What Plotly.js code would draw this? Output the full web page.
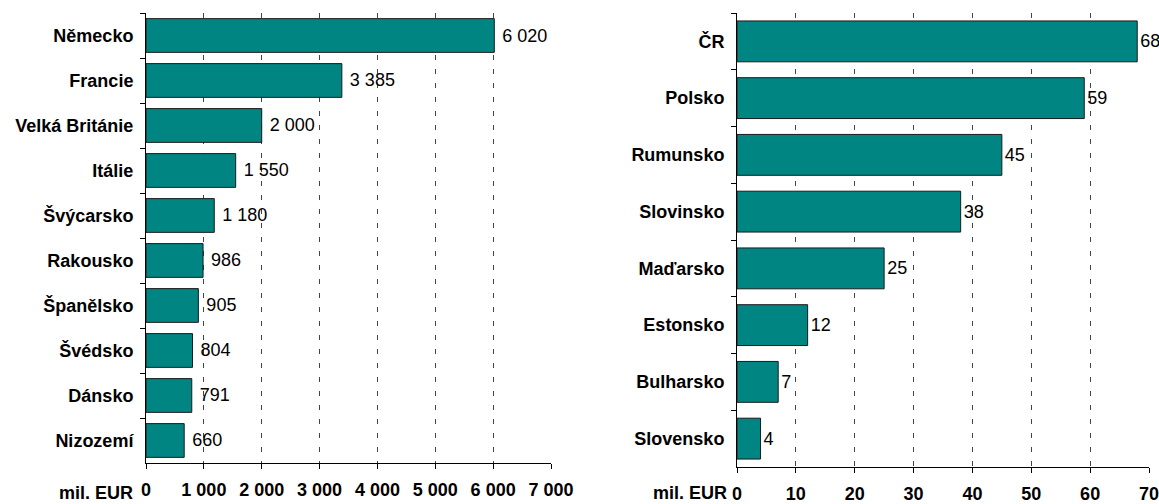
<!DOCTYPE html>
<html>
<head>
<meta charset="utf-8">
<script src="https://cdn.plot.ly/plotly-3.0.1.min.js"></script>
<style>html,body{margin:0;padding:0;background:#fff;}#chart{width:1159px;height:504px;}</style>
</head>
<body>
<div id="chart"></div>
<script>
// Left panel
const leftCountries = ["Německo","Francie","Velká Británie","Itálie","Švýcarsko","Rakousko","Španělsko","Švédsko","Dánsko","Nizozemí"];
const leftValues = [6020, 3385, 2000, 1550, 1180, 986, 905, 804, 791, 660];
const leftTicks = [0, 1000, 2000, 3000, 4000, 5000, 6000, 7000];
// Right panel
const rightCountries = ["ČR","Polsko","Rumunsko","Slovinsko","Maďarsko","Estonsko","Bulharsko","Slovensko"];
const rightValues = [68, 59, 45, 38, 25, 12, 7, 4];
const rightTicks = [0, 10, 20, 30, 40, 50, 60, 70];
const unitLabel = "mil. EUR";

const FONT = "Liberation Sans, Arial, sans-serif";
const TEAL = "#008583";
const FS = 18;

const barCommon = {
  type: "bar",
  orientation: "h",
  marker: {color: TEAL, line: {color: "#1a1a1a", width: 1}},
  textposition: "outside",
  texttemplate: " %{x:,}",
  textfont: {family: FONT, size: FS, color: "#000"},
  cliponaxis: false,
  constraintext: "none",
  hoverinfo: "skip"
};

const traces = [
  Object.assign({}, barCommon, {x: leftValues, y: leftCountries, xaxis: "x", yaxis: "y", width: 0.75}),
  Object.assign({}, barCommon, {x: rightValues, y: rightCountries, xaxis: "x2", yaxis: "y2", width: 0.72, texttemplate: "%{x:,}"})
];

function xax(domain, ticks, anchor) {
  return {
    domain: domain,
    anchor: anchor,
    range: [ticks[0], ticks[ticks.length-1]],
    tickvals: ticks,
    tickformat: ",d",
    showline: true, linecolor: "#000", linewidth: 1,
    ticks: "outside", ticklen: 5, tickcolor: "#000", tickwidth: 1,
    showgrid: true, gridcolor: "#444", gridwidth: 1, griddash: "5px,9px",
    zeroline: false,
    tickfont: {family: FONT, size: FS, color: "#000", weight: "bold"},
    ticklabelstandoff: 5,
    ticklabeloverflow: "allow",
    fixedrange: true
  };
}
function yax(domain, anchor) {
  return {
    domain: domain,
    anchor: anchor,
    type: "category",
    autorange: "reversed",
    showline: true, linecolor: "#000", linewidth: 1,
    ticks: "outside", ticklen: 5, tickcolor: "#000", tickwidth: 1,
    tickson: "boundaries",
    showgrid: false, zeroline: false,
    tickfont: {family: FONT, size: FS, color: "#000", weight: "bold"},
    ticklabelstandoff: 8,
    fixedrange: true
  };
}

const layout = {
  width: 1159, height: 504,
  margin: {l: 0, r: 0, t: 0, b: 0},
  paper_bgcolor: "#fff", plot_bgcolor: "#fff",
  showlegend: false,
  separators: ", ",
  bargap: 0.25,
  xaxis: xax([146/1159, 551/1159], leftTicks, "y"),
  yaxis: yax([(504-463)/504, (504-13)/504], "x"),
  xaxis2: xax([737/1159, 1149/1159], rightTicks, "y2"),
  yaxis2: yax([(504-467)/504, (504-13)/504], "x2"),
  annotations: [
    {text: unitLabel, xref: "x", x: 0, yref: "paper", y: (504-493)/504, xanchor: "right", yanchor: "middle", xshift: -11, showarrow: false, font: {family: FONT, size: FS, color: "#000", weight: "bold"}},
    {text: unitLabel, xref: "x2", x: 0, yref: "paper", y: (504-493)/504, xanchor: "right", yanchor: "middle", xshift: -8, showarrow: false, font: {family: FONT, size: FS, color: "#000", weight: "bold"}}
  ]
};

Plotly.newPlot("chart", traces, layout, {displayModeBar: false, staticPlot: true});
</script>
</body>
</html>
